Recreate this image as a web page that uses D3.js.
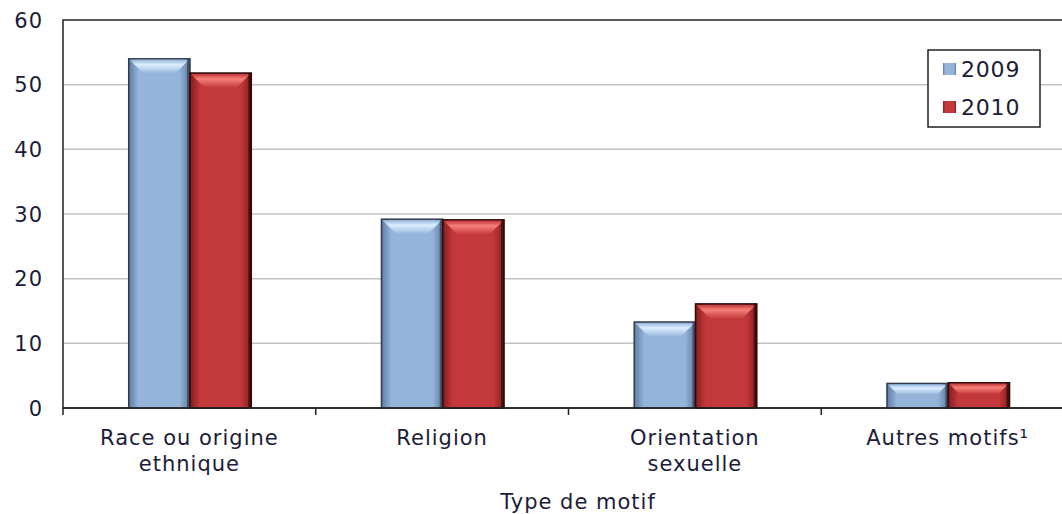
<!DOCTYPE html>
<html>
<head>
<meta charset="utf-8">
<script src="https://cdn.jsdelivr.net/npm/d3@7"></script>
<style>
    body { margin: 0; background: #fff; }
    svg text { font-family: "DejaVu Sans", Verdana, sans-serif; fill: #1c1c38; }
</style>
</head>
<body>
<div id="chart"></div>
<script>
const categories = [['Race ou origine', 'ethnique'], ['Religion'], ['Orientation', 'sexuelle'], ['Autres motifs¹']];
const years = ['2009', '2010'];
const values2009 = [54.0, 29.2, 13.3, 3.8];
const values2010 = [51.8, 29.1, 16.1, 3.9];
const yTicks = [0, 10, 20, 30, 40, 50, 60];

const palette = {
    '2009': { edge: '#5f7ba1', main: '#95b4da', light: '#dcefff', dark: '#333c4c' },
    '2010': { edge: '#841c1e', main: '#c3383b', light: '#f58078', dark: '#2a0a0a' }
};

function renderChart() {
    const width = 1062, height = 514;
    const margin = {top: 20, right: -12, bottom: 106, left: 63};
    const innerW = width - margin.left - margin.right;
    const innerH = height - margin.top - margin.bottom;

    const svg = d3.select('#chart')
        .append('svg')
        .attr('width', width)
        .attr('height', height);

    const defs = svg.append('defs');
    years.forEach(yr => {
        const c = palette[yr];
        const g = defs.append('linearGradient')
            .attr('id', 'grad' + yr)
            .attr('x1', '0%').attr('x2', '100%');
        g.append('stop').attr('offset', '0%').attr('stop-color', c.edge);
        g.append('stop').attr('offset', '16%').attr('stop-color', c.main);
        g.append('stop').attr('offset', '83%').attr('stop-color', c.main);
        g.append('stop').attr('offset', '100%').attr('stop-color', c.edge);
        const t = defs.append('linearGradient')
            .attr('id', 'top' + yr)
            .attr('x1', '0%').attr('x2', '0%').attr('y1', '0%').attr('y2', '100%');
        t.append('stop').attr('offset', '0%').attr('stop-color', c.main);
        t.append('stop').attr('offset', '35%').attr('stop-color', c.light);
        t.append('stop').attr('offset', '100%').attr('stop-color', c.main);
    });

    const g = svg.append('g')
        .attr('transform', `translate(${margin.left},${margin.top})`);

    const keys = categories.map((d, i) => i);
    const x = d3.scaleBand()
        .domain(keys)
        .range([0, innerW])
        .paddingInner(0)
        .paddingOuter(0);

    const x1 = d3.scaleBand()
        .domain(years)
        .range([x.bandwidth() * 0.26, x.bandwidth() * 0.745]);

    const y = d3.scaleLinear()
        .domain([0, 60])
        .range([innerH, 0]);

    // gridlines
    g.selectAll('.grid')
        .data(yTicks.filter(d => d > 0 && d < 60))
        .enter()
        .append('line')
        .attr('x1', 0)
        .attr('x2', innerW)
        .attr('y1', d => y(d))
        .attr('y2', d => y(d))
        .attr('stroke', '#c4c4c4')
        .attr('stroke-width', 1.5);

    // frame
    g.append('rect')
        .attr('x', 0)
        .attr('y', 0)
        .attr('width', innerW)
        .attr('height', innerH)
        .attr('fill', 'none')
        .attr('stroke', '#222')
        .attr('stroke-width', 1.5);

    // bars
    const rows = [];
    keys.forEach(i => {
        rows.push({cat: i, year: '2009', value: values2009[i]});
        rows.push({cat: i, year: '2010', value: values2010[i]});
    });

    const bars = g.selectAll('.bar')
        .data(rows)
        .enter()
        .append('g')
        .attr('class', 'bar');

    bars.append('rect')
        .attr('x', d => x(d.cat) + x1(d.year))
        .attr('y', d => y(d.value))
        .attr('width', x1.bandwidth())
        .attr('height', d => innerH - y(d.value))
        .attr('fill', d => `url(#grad${d.year})`)
        .attr('stroke', d => palette[d.year].dark)
        .attr('stroke-width', 1.5);

    bars.append('path')
        .attr('d', d => {
            const x0 = x(d.cat) + x1(d.year) + 1;
            const xr = x0 + x1.bandwidth() - 2;
            const yt = y(d.value) + 1;
            const bev = Math.min(14, (innerH - y(d.value)) / 2.4);
            return `M${x0},${yt}L${xr},${yt}L${xr - bev},${yt + bev}L${x0 + bev},${yt + bev}Z`;
        })
        .attr('fill', d => `url(#top${d.year})`);

    // right side shadow
    bars.append('rect')
        .attr('x', d => x(d.cat) + x1(d.year) + x1.bandwidth() - 3)
        .attr('y', d => y(d.value))
        .attr('width', 3)
        .attr('height', d => innerH - y(d.value))
        .attr('fill', d => palette[d.year].dark)
        .attr('opacity', 0.7);

    // x axis
    const xAxis = g.append('g')
        .attr('transform', `translate(0,${innerH})`);
    xAxis.append('line')
        .attr('x1', 0).attr('x2', innerW)
        .attr('stroke', '#222').attr('stroke-width', 1.5);
    xAxis.selectAll('.tick')
        .data(keys)
        .enter()
        .append('line')
        .attr('x1', d => x(d))
        .attr('x2', d => x(d))
        .attr('y1', 0)
        .attr('y2', 7)
        .attr('stroke', '#222')
        .attr('stroke-width', 1.5);

    const labels = xAxis.selectAll('.label')
        .data(keys)
        .enter()
        .append('text')
        .attr('text-anchor', 'middle')
        .style('font-size', '21px')
        .style('letter-spacing', '1px');
    labels.each(function(d) {
        const t = d3.select(this);
        categories[d].forEach((line, j) => {
            t.append('tspan')
                .attr('x', x(d) + x.bandwidth() / 2)
                .attr('y', 37 + j * 26)
                .text(line);
        });
    });

    // y axis labels
    g.selectAll('.ylab')
        .data(yTicks)
        .enter()
        .append('text')
        .attr('x', -20)
        .attr('y', d => y(d))
        .attr('dy', '0.36em')
        .attr('text-anchor', 'end')
        .style('font-size', '21px')
        .style('letter-spacing', '1px')
        .text(d => d);

    // axis title
    svg.append('text')
        .attr('x', 578)
        .attr('y', 509)
        .attr('text-anchor', 'middle')
        .style('font-size', '21px')
        .style('letter-spacing', '1px')
        .text('Type de motif');

    // legend
    const legend = svg.append('g')
        .attr('transform', 'translate(928,50)');
    legend.append('rect')
        .attr('width', 112)
        .attr('height', 77)
        .attr('fill', '#fff')
        .attr('stroke', '#222')
        .attr('stroke-width', 1.5);
    years.forEach((yr, i) => {
        legend.append('rect')
            .attr('x', 15)
            .attr('y', 13 + i * 38)
            .attr('width', 13)
            .attr('height', 12)
            .attr('fill', `url(#grad${yr})`);
        legend.append('text')
            .attr('x', 33)
            .attr('y', 19 + i * 38)
            .attr('dy', '0.36em')
            .style('font-size', '22px')
            .style('letter-spacing', '0.8px')
            .text(yr);
    });
}

document.addEventListener('DOMContentLoaded', renderChart);
</script>
</body>
</html>
